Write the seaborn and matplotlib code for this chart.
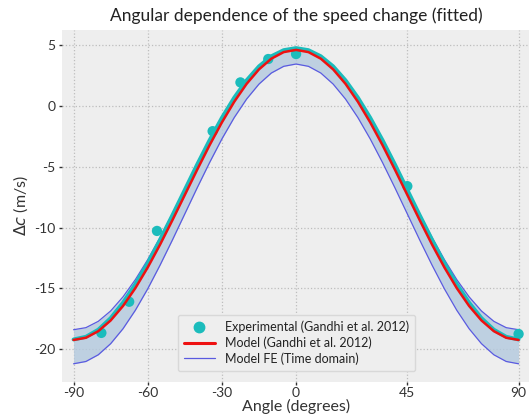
import matplotlib
matplotlib.use("Agg")
import matplotlib.pyplot as plt
import seaborn as sns
import pandas as pd
from matplotlib.lines import Line2D

# ---- data ----
exp_angle = [-78.75, -67.5, -56.25, -33.75, -22.5, -11.25, 0.0, 45.0, 90.0]
exp_dc = [-18.66, -16.10, -10.28, -2.08, 1.93, 3.85, 4.26, -6.60, -18.75]

angle = [-90, -85, -80, -75, -70, -65, -60, -55, -50, -45, -40, -35, -30, -25, -20, -15, -10, -5,
         0, 5, 10, 15, 20, 25, 30, 35, 40, 45, 50, 55, 60, 65, 70, 75, 80, 85, 90]

exp_fit = [-19.20, -18.98, -18.40, -17.45, -16.18, -14.66, -12.92, -11.00, -8.98, -6.90,
           -4.82, -2.83, -0.98, 0.68, 2.10, 3.25, 4.08, 4.58,
           4.75, 4.58, 4.08, 3.25, 2.10, 0.68, -0.98, -2.83, -4.82,
           -6.90, -8.98, -11.00, -12.92, -14.66, -16.18, -17.45, -18.40, -18.98, -19.20]

model_gandhi = [-19.24, -19.06, -18.52, -17.64, -16.45, -14.98, -13.28, -11.40, -9.39, -7.32,
                -5.25, -3.24, -1.36, 0.34, 1.81, 3.00, 3.88, 4.42,
                4.60, 4.42, 3.88, 3.00, 1.81, 0.34, -1.36, -3.24, -5.25,
                -7.32, -9.39, -11.40, -13.28, -14.98, -16.45, -17.64, -18.52, -19.06, -19.24]

fe_upper = [-18.40, -18.23, -17.71, -16.86, -15.70, -14.28, -12.64, -10.82, -8.88, -6.88,
            -4.87, -2.93, -1.11, 0.53, 1.95, 3.11, 3.96, 4.47,
            4.65, 4.47, 3.96, 3.11, 1.95, 0.53, -1.11, -2.93, -4.87,
            -6.88, -8.88, -10.82, -12.64, -14.28, -15.70, -16.86, -17.71, -18.23, -18.40]

fe_lower = [-21.20, -21.01, -20.46, -19.55, -18.32, -16.80, -15.04, -13.09, -11.02, -8.88,
            -6.74, -4.67, -2.72, -0.96, 0.56, 1.79, 2.70, 3.25,
            3.44, 3.25, 2.70, 1.79, 0.56, -0.96, -2.72, -4.67, -6.74,
            -8.88, -11.02, -13.09, -15.04, -16.80, -18.32, -19.55, -20.46, -21.01, -21.20]

xticks = [-90, -60, -30, 0, 45, 90]
yticks = [5, 0, -5, -10, -15, -20]

title = "Angular dependence of the speed change (fitted)"
labels = ["Experimental (Gandhi et al. 2012)", "Model (Gandhi et al. 2012)", "Model FE (Time domain)"]

# ---- style ----
sns.set_theme(style="darkgrid")
plt.rcParams.update({
    "axes.facecolor": "#eeeeee",
    "figure.facecolor": "white",
    "grid.color": "#bdbdbd",
    "grid.linestyle": ":",
    "grid.linewidth": 0.9,
    "axes.unicode_minus": False,
    "xtick.bottom": True,
    "ytick.left": True,
    "xtick.major.size": 2.5,
    "ytick.major.size": 2.5,
    "xtick.major.width": 1.0,
    "ytick.major.width": 1.0,
    "xtick.color": "#333333",
    "ytick.color": "#333333",
    "xtick.labelcolor": "#333333",
    "ytick.labelcolor": "#333333",
    "lines.solid_joinstyle": "round",
})
plt.rcParams["font.family"] = ["Lato", "DejaVu Sans"]

curves = pd.DataFrame({"angle": angle, "fit": exp_fit, "model": model_gandhi,
                       "up": fe_upper, "lo": fe_lower})
pts = pd.DataFrame({"angle": exp_angle, "dc": exp_dc})

fig = plt.figure(figsize=(5.29, 4.17), dpi=100)
ax = fig.add_axes([0.1166, 0.085, 0.888, 0.842])

ax.fill_between(curves["angle"], curves["lo"], curves["up"], color="#b3c9de", alpha=0.8,
                linewidth=0, zorder=1)
sns.lineplot(data=curves, x="angle", y="up", color="#5a5ae0", linewidth=0.9, ax=ax, zorder=2)
sns.lineplot(data=curves, x="angle", y="lo", color="#5a5ae0", linewidth=0.9, ax=ax, zorder=2)
sns.scatterplot(data=pts, x="angle", y="dc", color="#1bbcbc", s=55, edgecolor="none", ax=ax, zorder=3)
sns.lineplot(data=curves, x="angle", y="fit", color="#1bbcbc", linewidth=2.8, ax=ax, zorder=4)
sns.lineplot(data=curves, x="angle", y="model", color="#ee1111", linewidth=1.8, ax=ax, zorder=5)

ax.set_xlim(-94.8, 95.2)
ax.set_ylim(-22.66, 6.2)
ax.set_xticks(xticks)
ax.set_yticks(yticks)
ax.tick_params(axis="x", labelsize=10, pad=1.5)
ax.tick_params(axis="y", labelsize=10, pad=2)
for s in ax.spines.values():
    s.set_visible(False)

ax.set_title(title, fontsize=12.5, color="#222222", pad=7)
ax.set_xlabel("Angle (degrees)", fontsize=11.5, color="#333333", labelpad=0)
ax.set_ylabel(r"$\Delta c$ (m/s)", fontsize=11.5, color="#333333", labelpad=3)

handles = [
    Line2D([], [], marker="o", linestyle="none", color="#1bbcbc", markersize=7.5),
    Line2D([], [], color="#ee1111", linewidth=2.2),
    Line2D([], [], color="#5a5ae0", linewidth=0.9),
]
leg = ax.legend(handles, labels, loc="lower center", bbox_to_anchor=(0.5, 0.012),
                fontsize=9, frameon=True, facecolor="#eeeeee", edgecolor="#d8d8d8",
                framealpha=1, borderpad=0.5, labelspacing=0.25, handlelength=2.5)
for t in leg.get_texts():
    t.set_color("#222222")

fig.savefig("out.png", dpi=100)
